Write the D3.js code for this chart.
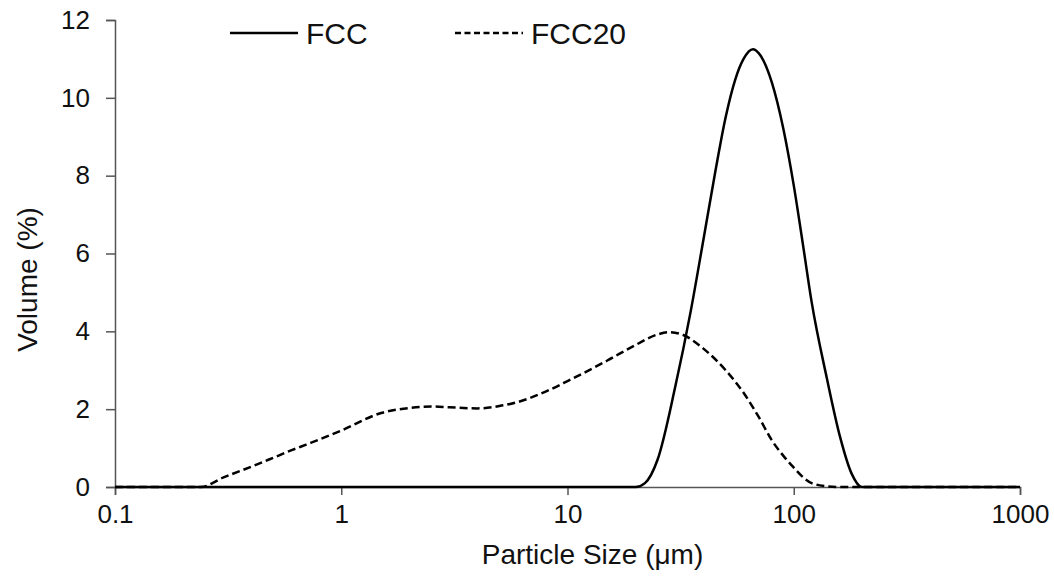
<!DOCTYPE html>
<html>
<head>
<meta charset="utf-8">
<script src="https://cdn.jsdelivr.net/npm/d3@7"></script>
<style>
  body { margin: 0; background: #fff; }
  text { font-family: "Liberation Sans", Arial, sans-serif; fill: #111; }
</style>
</head>
<body>
<div id="chart"></div>
<script>
// particle size (um) and volume (%)
const fccSize = [0.1, 1, 10, 20, 22, 25, 30, 35, 40, 45, 50, 55, 60, 66, 70, 80, 90, 100, 110, 120, 140, 160, 180, 200, 1000];
const fccVol  = [0, 0, 0, 0, 0.1, 0.7, 2.6, 4.5, 6.4, 8.1, 9.5, 10.45, 11.0, 11.25, 11.15, 10.4, 9.2, 7.75, 6.2, 4.75, 2.8, 1.3, 0.35, 0, 0];

const fcc20Size = [0.1, 0.2, 0.24, 0.3, 0.4, 0.5, 0.6, 0.7, 0.8, 1, 1.5, 2, 2.5, 3, 4, 5, 6, 8, 10, 15, 20, 25, 28, 32, 40, 50, 60, 70, 80, 90, 100, 110, 120, 140, 160, 1000];
const fcc20Vol  = [0, 0, 0, 0.24, 0.52, 0.75, 0.94, 1.09, 1.22, 1.45, 1.9, 2.03, 2.07, 2.05, 2.02, 2.08, 2.18, 2.45, 2.72, 3.25, 3.65, 3.92, 3.98, 3.92, 3.55, 3.0, 2.42, 1.8, 1.2, 0.8, 0.5, 0.25, 0.1, 0.02, 0, 0];

const xTicks = [0.1, 1, 10, 100, 1000];
const yTicks = [0, 2, 4, 6, 8, 10, 12];

const width = 1054, height = 580;
const margin = {top: 20, right: 34, bottom: 93, left: 115};

const svg = d3.select("#chart").append("svg")
    .attr("width", width)
    .attr("height", height);

const x = d3.scaleLog().domain([0.1, 1000]).range([margin.left, width - margin.right]);
const y = d3.scaleLinear().domain([0, 12]).range([height - margin.bottom, margin.top]);

const xAxis = svg.append("g")
    .attr("transform", `translate(0,${height - margin.bottom})`)
    .call(d3.axisBottom(x).tickValues(xTicks).tickFormat(d => String(d)).tickSize(8).tickPadding(10));

const yAxis = svg.append("g")
    .attr("transform", `translate(${margin.left},0)`)
    .call(d3.axisLeft(y).tickValues(yTicks).tickSize(9).tickPadding(16));

[xAxis, yAxis].forEach(a => {
    a.select(".domain").attr("stroke", "#555").attr("stroke-width", 1.5);
    a.selectAll(".tick line").attr("stroke", "#555").attr("stroke-width", 1.5);
    a.selectAll(".tick text").attr("font-size", 26).attr("font-family", "Liberation Sans, Arial, sans-serif").attr("fill", "#111");
});

const line = d3.line()
    .x(d => x(d[0]))
    .y(d => y(d[1]))
    .curve(d3.curveMonotoneX);

svg.append("path")
    .datum(fcc20Size.map((s, i) => [s, fcc20Vol[i]]))
    .attr("fill", "none")
    .attr("stroke", "#000")
    .attr("stroke-width", 2.5)
    .attr("stroke-dasharray", "8,4")
    .attr("d", line);

svg.append("path")
    .datum(fccSize.map((s, i) => [s, fccVol[i]]))
    .attr("fill", "none")
    .attr("stroke", "#000")
    .attr("stroke-width", 2.5)
    .attr("d", line);

// legend
const legend = [
    {name: "FCC", dash: null, x0: 230},
    {name: "FCC20", dash: "6,3.5", x0: 455}
];
const ly = 33;
legend.forEach(l => {
    svg.append("line")
        .attr("x1", l.x0).attr("x2", l.x0 + 68)
        .attr("y1", ly).attr("y2", ly)
        .attr("stroke", "#000")
        .attr("stroke-width", 2.5)
        .attr("stroke-dasharray", l.dash);
    svg.append("text")
        .attr("x", l.x0 + 76).attr("y", ly)
        .attr("dy", "0.35em")
        .attr("font-size", 30)
        .text(l.name);
});

// axis titles
svg.append("text")
    .attr("x", (margin.left + width - margin.right) / 2 + 25)
    .attr("y", 564)
    .attr("text-anchor", "middle")
    .attr("font-size", 28)
    .text("Particle Size (\u03bcm)");

svg.append("text")
    .attr("transform", `translate(37,${(margin.top + height - margin.bottom) / 2 + 26}) rotate(-90)`)
    .attr("text-anchor", "middle")
    .attr("font-size", 28)
    .text("Volume (%)");
</script>
</body>
</html>
